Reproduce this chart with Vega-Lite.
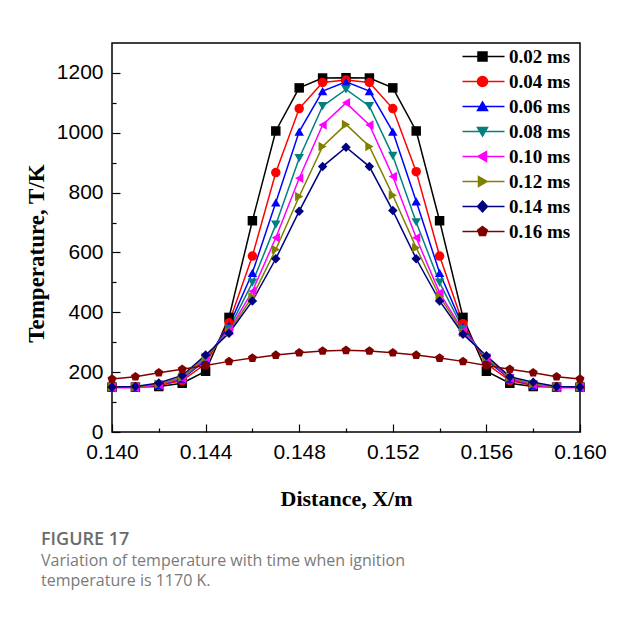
{
"$schema": "https://vega.github.io/schema/vega-lite/v6.json",
"width": 468, "height": 389,
"autosize": {"type": "none"},
"padding": {"left": 112, "top": 43, "right": 39, "bottom": 189},
"background": "white",
"config": {"view": {"stroke": "black", "strokeWidth": 1.5},
  "legend": {"title": null, "orient": "none", "legendX": 361, "legendY": 4, "padding": 0,
         "labelFont": "Liberation Serif", "labelFontSize": 19, "labelFontWeight": "bold", "labelColor": "black",
         "symbolSize": 100, "symbolStrokeWidth": 1.5, "symbolOpacity": 1, "rowPadding": 5, "labelOffset": 17,
         "symbolFillColor": "#000000", "symbolStrokeColor": "#000000"}},
"title": {"text": "FIGURE 17", "subtitle": ["Variation of temperature with time when ignition", "temperature is 1170 K."], "orient": "bottom", "anchor": "start", "frame": "group", "dx": -71, "offset": 22, "font": "Open Sans", "fontSize": 18, "fontWeight": 600, "color": "#6b6b6b", "subtitleFont": "Open Sans", "subtitleFontSize": 16, "subtitleColor": "#7a7a7a", "subtitlePadding": 4, "subtitleLineHeight": 20},
"datasets": {"d": [
{"t":"0.02 ms","x":0.140,"T":150},{"t":"0.02 ms","x":0.141,"T":150},{"t":"0.02 ms","x":0.142,"T":152},{"t":"0.02 ms","x":0.143,"T":163},{"t":"0.02 ms","x":0.144,"T":203},{"t":"0.02 ms","x":0.145,"T":383},{"t":"0.02 ms","x":0.146,"T":706},{"t":"0.02 ms","x":0.147,"T":1006},{"t":"0.02 ms","x":0.148,"T":1150},{"t":"0.02 ms","x":0.149,"T":1183},{"t":"0.02 ms","x":0.150,"T":1184},{"t":"0.02 ms","x":0.151,"T":1183},{"t":"0.02 ms","x":0.152,"T":1150},{"t":"0.02 ms","x":0.153,"T":1006},{"t":"0.02 ms","x":0.154,"T":706},{"t":"0.02 ms","x":0.155,"T":383},{"t":"0.02 ms","x":0.156,"T":203},{"t":"0.02 ms","x":0.157,"T":163},{"t":"0.02 ms","x":0.158,"T":152},{"t":"0.02 ms","x":0.159,"T":150},{"t":"0.02 ms","x":0.160,"T":150},
{"t":"0.04 ms","x":0.140,"T":150},{"t":"0.04 ms","x":0.141,"T":150},{"t":"0.04 ms","x":0.142,"T":155},{"t":"0.04 ms","x":0.143,"T":172},{"t":"0.04 ms","x":0.144,"T":228},{"t":"0.04 ms","x":0.145,"T":365},{"t":"0.04 ms","x":0.146,"T":588},{"t":"0.04 ms","x":0.147,"T":867},{"t":"0.04 ms","x":0.148,"T":1081},{"t":"0.04 ms","x":0.149,"T":1168},{"t":"0.04 ms","x":0.150,"T":1176},{"t":"0.04 ms","x":0.151,"T":1168},{"t":"0.04 ms","x":0.152,"T":1081},{"t":"0.04 ms","x":0.153,"T":870},{"t":"0.04 ms","x":0.154,"T":588},{"t":"0.04 ms","x":0.155,"T":362},{"t":"0.04 ms","x":0.156,"T":228},{"t":"0.04 ms","x":0.157,"T":172},{"t":"0.04 ms","x":0.158,"T":155},{"t":"0.04 ms","x":0.159,"T":150},{"t":"0.04 ms","x":0.160,"T":150},
{"t":"0.06 ms","x":0.140,"T":150},{"t":"0.06 ms","x":0.141,"T":150},{"t":"0.06 ms","x":0.142,"T":157},{"t":"0.06 ms","x":0.143,"T":178},{"t":"0.06 ms","x":0.144,"T":240},{"t":"0.06 ms","x":0.145,"T":355},{"t":"0.06 ms","x":0.146,"T":532},{"t":"0.06 ms","x":0.147,"T":767},{"t":"0.06 ms","x":0.148,"T":1004},{"t":"0.06 ms","x":0.149,"T":1139},{"t":"0.06 ms","x":0.150,"T":1170},{"t":"0.06 ms","x":0.151,"T":1139},{"t":"0.06 ms","x":0.152,"T":1004},{"t":"0.06 ms","x":0.153,"T":771},{"t":"0.06 ms","x":0.154,"T":532},{"t":"0.06 ms","x":0.155,"T":352},{"t":"0.06 ms","x":0.156,"T":240},{"t":"0.06 ms","x":0.157,"T":178},{"t":"0.06 ms","x":0.158,"T":157},{"t":"0.06 ms","x":0.159,"T":150},{"t":"0.06 ms","x":0.160,"T":150},
{"t":"0.08 ms","x":0.140,"T":150},{"t":"0.08 ms","x":0.141,"T":150},{"t":"0.08 ms","x":0.142,"T":158},{"t":"0.08 ms","x":0.143,"T":180},{"t":"0.08 ms","x":0.144,"T":245},{"t":"0.08 ms","x":0.145,"T":345},{"t":"0.08 ms","x":0.146,"T":499},{"t":"0.08 ms","x":0.147,"T":693},{"t":"0.08 ms","x":0.148,"T":915},{"t":"0.08 ms","x":0.149,"T":1089},{"t":"0.08 ms","x":0.150,"T":1145},{"t":"0.08 ms","x":0.151,"T":1089},{"t":"0.08 ms","x":0.152,"T":923},{"t":"0.08 ms","x":0.153,"T":701},{"t":"0.08 ms","x":0.154,"T":499},{"t":"0.08 ms","x":0.155,"T":345},{"t":"0.08 ms","x":0.156,"T":245},{"t":"0.08 ms","x":0.157,"T":180},{"t":"0.08 ms","x":0.158,"T":158},{"t":"0.08 ms","x":0.159,"T":150},{"t":"0.08 ms","x":0.160,"T":150},
{"t":"0.10 ms","x":0.140,"T":148},{"t":"0.10 ms","x":0.141,"T":148},{"t":"0.10 ms","x":0.142,"T":158},{"t":"0.10 ms","x":0.143,"T":180},{"t":"0.10 ms","x":0.144,"T":248},{"t":"0.10 ms","x":0.145,"T":340},{"t":"0.10 ms","x":0.146,"T":470},{"t":"0.10 ms","x":0.147,"T":649},{"t":"0.10 ms","x":0.148,"T":848},{"t":"0.10 ms","x":0.149,"T":1026},{"t":"0.10 ms","x":0.150,"T":1100},{"t":"0.10 ms","x":0.151,"T":1026},{"t":"0.10 ms","x":0.152,"T":854},{"t":"0.10 ms","x":0.153,"T":649},{"t":"0.10 ms","x":0.154,"T":465},{"t":"0.10 ms","x":0.155,"T":338},{"t":"0.10 ms","x":0.156,"T":248},{"t":"0.10 ms","x":0.157,"T":180},{"t":"0.10 ms","x":0.158,"T":158},{"t":"0.10 ms","x":0.159,"T":148},{"t":"0.10 ms","x":0.160,"T":148},
{"t":"0.12 ms","x":0.140,"T":150},{"t":"0.12 ms","x":0.141,"T":150},{"t":"0.12 ms","x":0.142,"T":160},{"t":"0.12 ms","x":0.143,"T":183},{"t":"0.12 ms","x":0.144,"T":250},{"t":"0.12 ms","x":0.145,"T":335},{"t":"0.12 ms","x":0.146,"T":452},{"t":"0.12 ms","x":0.147,"T":610},{"t":"0.12 ms","x":0.148,"T":787},{"t":"0.12 ms","x":0.149,"T":954},{"t":"0.12 ms","x":0.150,"T":1028},{"t":"0.12 ms","x":0.151,"T":954},{"t":"0.12 ms","x":0.152,"T":791},{"t":"0.12 ms","x":0.153,"T":616},{"t":"0.12 ms","x":0.154,"T":452},{"t":"0.12 ms","x":0.155,"T":333},{"t":"0.12 ms","x":0.156,"T":250},{"t":"0.12 ms","x":0.157,"T":183},{"t":"0.12 ms","x":0.158,"T":160},{"t":"0.12 ms","x":0.159,"T":150},{"t":"0.12 ms","x":0.160,"T":150},
{"t":"0.14 ms","x":0.140,"T":150},{"t":"0.14 ms","x":0.141,"T":152},{"t":"0.14 ms","x":0.142,"T":164},{"t":"0.14 ms","x":0.143,"T":189},{"t":"0.14 ms","x":0.144,"T":257},{"t":"0.14 ms","x":0.145,"T":330},{"t":"0.14 ms","x":0.146,"T":438},{"t":"0.14 ms","x":0.147,"T":579},{"t":"0.14 ms","x":0.148,"T":738},{"t":"0.14 ms","x":0.149,"T":887},{"t":"0.14 ms","x":0.150,"T":952},{"t":"0.14 ms","x":0.151,"T":887},{"t":"0.14 ms","x":0.152,"T":740},{"t":"0.14 ms","x":0.153,"T":579},{"t":"0.14 ms","x":0.154,"T":438},{"t":"0.14 ms","x":0.155,"T":327},{"t":"0.14 ms","x":0.156,"T":255},{"t":"0.14 ms","x":0.157,"T":185},{"t":"0.14 ms","x":0.158,"T":166},{"t":"0.14 ms","x":0.159,"T":152},{"t":"0.14 ms","x":0.160,"T":150},
{"t":"0.16 ms","x":0.140,"T":177},{"t":"0.16 ms","x":0.141,"T":185},{"t":"0.16 ms","x":0.142,"T":198},{"t":"0.16 ms","x":0.143,"T":210},{"t":"0.16 ms","x":0.144,"T":222},{"t":"0.16 ms","x":0.145,"T":236},{"t":"0.16 ms","x":0.146,"T":247},{"t":"0.16 ms","x":0.147,"T":257},{"t":"0.16 ms","x":0.148,"T":265},{"t":"0.16 ms","x":0.149,"T":271},{"t":"0.16 ms","x":0.150,"T":273},{"t":"0.16 ms","x":0.151,"T":271},{"t":"0.16 ms","x":0.152,"T":265},{"t":"0.16 ms","x":0.153,"T":257},{"t":"0.16 ms","x":0.154,"T":247},{"t":"0.16 ms","x":0.155,"T":236},{"t":"0.16 ms","x":0.156,"T":222},{"t":"0.16 ms","x":0.157,"T":210},{"t":"0.16 ms","x":0.158,"T":198},{"t":"0.16 ms","x":0.159,"T":185},{"t":"0.16 ms","x":0.160,"T":177}
]},
"data": {"name": "d"},
"encoding": {
  "x": {"field": "x", "type": "quantitative",
    "scale": {"domain": [0.14, 0.16], "nice": false, "zero": false},
    "axis": {"values": [0.14,0.142,0.144,0.146,0.148,0.15,0.152,0.154,0.156,0.158,0.16],
      "labelExpr": "round(datum.value*1000) % 4 == 0 ? format(datum.value, '.3f') : ''",
      "tickSize": {"condition": {"test": "round(datum.value*1000) % 4 == 0", "value": -8}, "value": -4},
      "labelPadding": 17, "labelFont": "Liberation Sans", "labelFontSize": 21, "labelColor": "black",
      "labelFlush": false, "labelOverlap": false, "labelBound": false,
      "tickColor": "black", "tickWidth": 1.2, "domain": false, "grid": false,
      "title": "Distance, X/m", "titleFont": "Liberation Serif", "titleFontSize": 22, "titleFontWeight": "bold", "titleColor": "black",
      "titleBaseline": "alphabetic", "titleY": 73}},
  "y": {"field": "T", "type": "quantitative",
    "scale": {"domain": [0, 1300], "nice": false, "zero": true},
    "axis": {"values": [0,100,200,300,400,500,600,700,800,900,1000,1100,1200],
      "labelExpr": "round(datum.value) % 200 == 0 ? format(datum.value, 'd') : ''",
      "tickSize": {"condition": {"test": "round(datum.value) % 200 == 0", "value": -8}, "value": -4},
      "labelPadding": 17, "labelFont": "Liberation Sans", "labelFontSize": 21, "labelColor": "black",
      "labelFlush": false, "labelOverlap": false, "labelBound": false,
      "tickColor": "black", "tickWidth": 1.2, "domain": false, "grid": false,
      "title": "Temperature, T/K", "titleFont": "Liberation Serif", "titleFontSize": 23, "titleFontWeight": "bold", "titleColor": "black",
      "titleBaseline": "alphabetic", "titleAngle": -90, "titleX": -69, "titleY": 210}}
},
"layer": [
  {"mark": {"type": "line", "strokeWidth": 1.5},
   "encoding": {"color": {"field": "t", "type": "nominal", "legend": null,
     "scale": {"domain": ["0.02 ms","0.04 ms","0.06 ms","0.08 ms","0.10 ms","0.12 ms","0.14 ms","0.16 ms"],
               "range": ["#000000","#ff0000","#0000ff","#008080","#ff00ff","#808000","#000080","#800000"]}}}},
  {"mark": {"type": "point", "filled": true, "size": 90, "opacity": 1},
   "encoding": {"color": {"field": "t", "type": "nominal", "legend": null},
     "shape": {"field": "t", "type": "nominal", "legend": null,
       "scale": {"domain": ["0.02 ms","0.04 ms","0.06 ms","0.08 ms","0.10 ms","0.12 ms","0.14 ms","0.16 ms"],
         "range": ["square","circle","triangle-up","triangle-down","triangle-left","triangle-right","diamond","M0,-1L0.951,-0.309L0.588,0.809L-0.588,0.809L-0.951,-0.309Z"]}}}},
  {"transform": [{"filter": "datum.T < 0"}],
   "mark": {"type": "point", "filled": true},
   "encoding": {
     "fill": {"field": "t", "type": "nominal", "legend": null,
       "scale": {"domain": ["0.02 ms","0.04 ms","0.06 ms","0.08 ms","0.10 ms","0.12 ms","0.14 ms","0.16 ms"],
                 "range": ["#000000","#ff0000","#0000ff","#008080","#ff00ff","#808000","#000080","#800000"]}},
     "stroke": {"field": "t", "type": "nominal", "legend": null,
       "scale": {"domain": ["0.02 ms","0.04 ms","0.06 ms","0.08 ms","0.10 ms","0.12 ms","0.14 ms","0.16 ms"],
                 "range": ["#000000","#ff0000","#0000ff","#008080","#ff00ff","#808000","#000080","#800000"]}},
     "shape": {"field": "t", "type": "nominal",
       "scale": {"domain": ["0.02 ms","0.04 ms","0.06 ms","0.08 ms","0.10 ms","0.12 ms","0.14 ms","0.16 ms"],
         "range": ["M-4,0H4.4M-0.9,-0.9H0.9V0.9H-0.9Z",
                   "M-4,0H4.4M-1,0A1,1,0,1,1,1,0A1,1,0,1,1,-1,0Z",
                   "M-4,0H4.4M0,-0.9L1,0.8L-1,0.8Z",
                   "M-4,0H4.4M0,0.9L1,-0.8L-1,-0.8Z",
                   "M-4,0H4.4M-0.9,0L0.8,-1L0.8,1Z",
                   "M-4,0H4.4M0.9,0L-0.8,-1L-0.8,1Z",
                   "M-4,0H4.4M0,-1.1L1,0L0,1.1L-1,0Z",
                   "M-4,0H4.4M0,-1L0.951,-0.309L0.588,0.809L-0.588,0.809L-0.951,-0.309Z"]},
       "legend": {"encode": {"symbols": {"update": {
           "fill": {"signal": "({'0.02 ms':'#000000','0.04 ms':'#ff0000','0.06 ms':'#0000ff','0.08 ms':'#008080','0.10 ms':'#ff00ff','0.12 ms':'#808000','0.14 ms':'#000080','0.16 ms':'#800000'})[datum.value]"},
           "stroke": {"signal": "({'0.02 ms':'#000000','0.04 ms':'#ff0000','0.06 ms':'#0000ff','0.08 ms':'#008080','0.10 ms':'#ff00ff','0.12 ms':'#808000','0.14 ms':'#000080','0.16 ms':'#800000'})[datum.value]"}}}}}}
   }}
],
"resolve": {"scale": {"shape": "independent"}}
}
